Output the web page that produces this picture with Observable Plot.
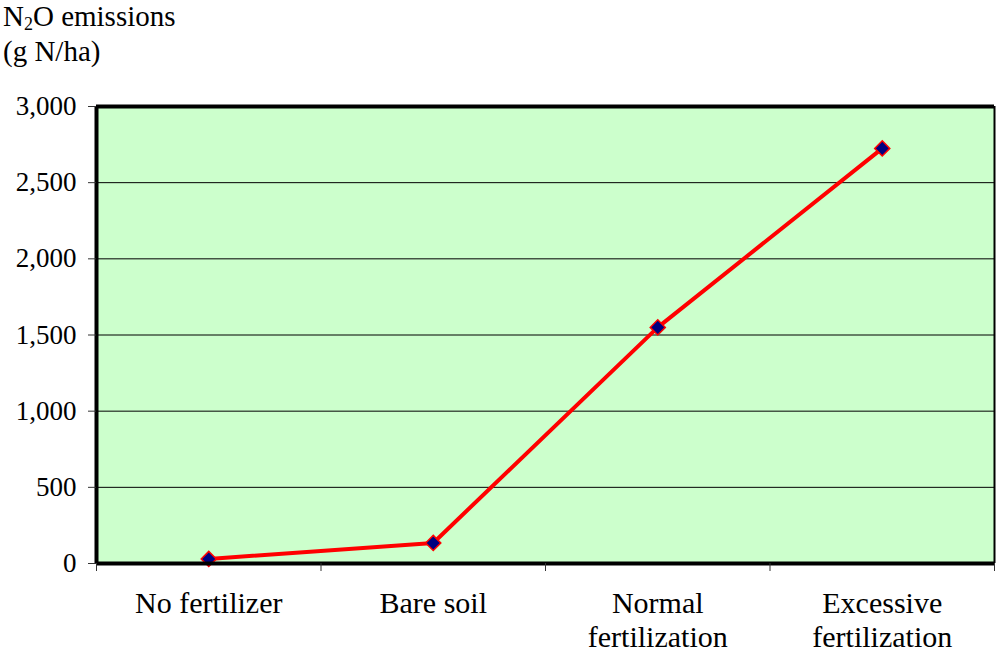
<!DOCTYPE html>
<html>
<head>
<meta charset="utf-8">
<script src="https://cdn.jsdelivr.net/npm/d3@7"></script>
<script src="https://cdn.jsdelivr.net/npm/@observablehq/plot@0.6"></script>
<style>
  html, body { margin: 0; padding: 0; background: white; }
  #wrap { position: relative; width: 996px; height: 657px; font-family: "Liberation Serif", "Times New Roman", serif; }
  #title { position: absolute; left: 3px; top: 1px; font-size: 29px; line-height: 31px; color: black; }
  #title sub { font-size: 0.62em; vertical-align: baseline; position: relative; top: 0.25em; }
</style>
</head>
<body>
<div id="wrap">
  <div id="chart"></div>
  <div id="title">N<sub>2</sub>O emissions<br>(g N/ha)</div>
</div>
<script>
const categories = ["No fertilizer", "Bare soil", "Normal\nfertilization", "Excessive\nfertilization"];
const emissions = [30, 135, 1550, 2725];
const yTicks = [0, 500, 1000, 1500, 2000, 2500, 3000];
const gridValues = [500, 1000, 1500, 2000, 2500];

const data = categories.map((c, i) => ({pos: i + 0.5, category: c, value: emissions[i]}));
const boundaries = d3.range(categories.length + 1);
const centers = categories.map((c, i) => i + 0.5);
const serif = "'Liberation Serif', 'Times New Roman', serif";

const chart = Plot.plot({
  width: 996,
  height: 657,
  marginLeft: 96,
  marginRight: 2,
  marginTop: 106,
  marginBottom: 94,
  style: {fontFamily: serif, color: "black", background: "white"},
  x: {type: "linear", domain: [0, categories.length]},
  y: {domain: [0, 3000]},
  marks: [
    Plot.frame({fill: "#CCFFCC"}),
    Plot.ruleY(gridValues, {stroke: "black", strokeWidth: 1}),
    Plot.line(data, {x: "pos", y: "value", stroke: "#FF0000", strokeWidth: 4}),
    Plot.dot(data, {x: "pos", y: "value", symbol: "diamond2", r: 6.8, fill: "#000080", stroke: "#FF0000", strokeWidth: 1.5}),
    Plot.ruleX([categories.length], {stroke: "black", strokeWidth: 2}),
    Plot.ruleX([0], {stroke: "black", strokeWidth: 4}),
    Plot.ruleY([3000], {stroke: "black", strokeWidth: 4}),
    Plot.ruleY([0], {stroke: "black", strokeWidth: 4}),
    Plot.axisY({ticks: yTicks, tickFormat: d3.format(","), tickSize: 8, tickPadding: 12, fontSize: 27, fontFamily: serif, label: null, stroke: "#333"}),
    Plot.axisX({ticks: boundaries, tickFormat: () => "", tickSize: 8, label: null, stroke: "#333"}),
    Plot.axisX({ticks: centers, tickFormat: (d) => categories[Math.round(d - 0.5)], tickSize: 0, tickPadding: 26, fontSize: 30, fontFamily: serif, lineHeight: 1.12, label: null})
  ]
});
document.getElementById("chart").appendChild(chart);
</script>
</body>
</html>
